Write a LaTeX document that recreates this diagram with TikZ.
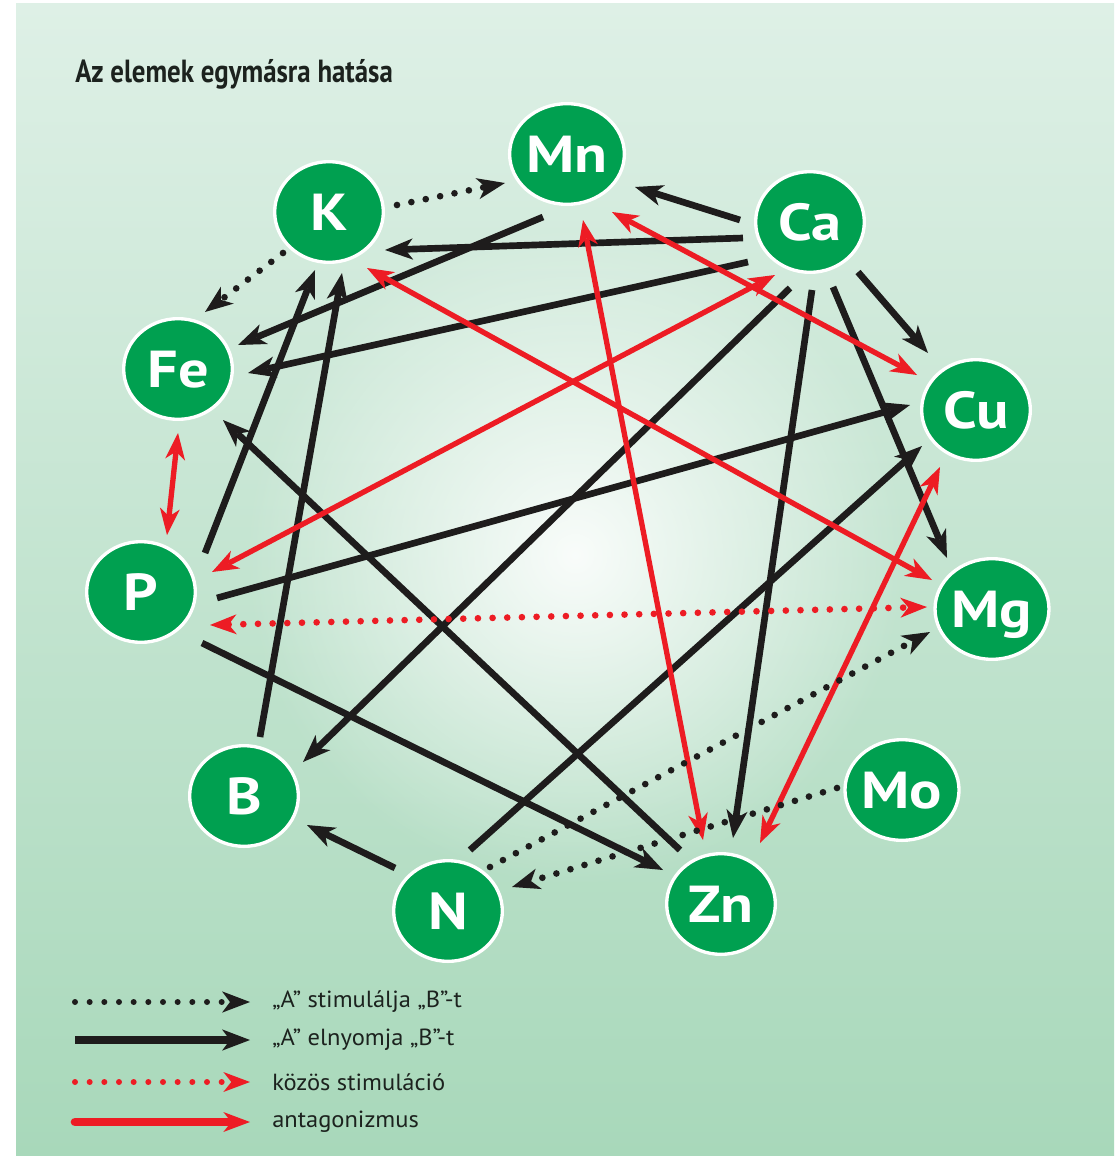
\documentclass[tikz,border=0pt]{standalone}
\usepackage{fontspec}
\setmainfont{PT Sans}
\newfontfamily\nodefont[FakeStretch=1.16]{PT Sans}
\newfontfamily\titlefont[FakeStretch=0.84]{PT Sans}
\newfontfamily\legfont[FakeStretch=1.05]{PT Sans}
\usetikzlibrary{arrows.meta,shapes.geometric,fadings}
\definecolor{elgreen}{RGB}{0,160,80}
\definecolor{arrred}{RGB}{237,28,36}
\definecolor{lineblack}{RGB}{30,28,28}
\definecolor{bgtop}{RGB}{222,240,230}
\definecolor{bgbot}{RGB}{168,216,186}
\definecolor{txtdark}{RGB}{28,34,30}
\tikzfading[name=glowfade, inner color=transparent!0, outer color=transparent!100]
\tikzset{
  elem/.style={ellipse, fill=elgreen, draw=white, line width=2.5pt,
    minimum width=81.5pt, minimum height=75.5pt, inner sep=0pt, text=white,
    font=\nodefont\bfseries\fontsize{39}{39}\selectfont, text height=27.5pt, text depth=0pt},
  bt/.tip={Stealth[length=21pt,width=16pt,inset=6pt,line width=0pt]},
  rt/.tip={Stealth[length=20pt,width=15pt,inset=6pt,line width=0pt]},
  supp/.style={color=lineblack, line width=5pt, -bt},
  stim/.style={color=lineblack, line width=5pt, line cap=round, dash pattern=on 0pt off 11pt, -bt},
  antag/.style={color=arrred, line width=4pt, rt-rt},
  common/.style={color=arrred, line width=5pt, line cap=round, dash pattern=on 0pt off 11pt, rt-rt},
  legtext/.style={anchor=west, inner sep=0pt, text=txtdark, font=\legfont\fontsize{17.5}{17.5}\selectfont}
}
\begin{document}
\begin{tikzpicture}[x=0.75pt,y=-0.75pt]
\useasboundingbox (0,0) rectangle (1114,1156);
\fill[white] (0,0) rectangle (1114,1156);
\shade[top color=bgtop, bottom color=bgbot] (16,4) rectangle (1114,1156);
\fill[white, path fading=glowfade, fill opacity=0.9] (575,555) ellipse (330 and 330);

\node[anchor=base west, inner sep=0pt, text=txtdark,
  font=\titlefont\bfseries\fontsize{24}{24}\selectfont] (title) at (75,83) {Az elemek egymásra hatása};

% elements
\node[elem] (Mn) at (567,154) {Mn};
\node[elem] (K)  at (329,212) {K};
\node[elem] (Ca) at (810,222) {Ca};
\node[elem] (Fe) at (178,369) {Fe};
\node[elem] (Cu) at (976,410) {Cu};
\node[elem] (P)  at (141,592) {P};
\node[elem] (Mg) at (992,609) {Mg};
\node[elem] (Mo) at (902,790) {Mo};
\node[elem] (B)  at (244,796) {B};
\node[elem] (N)  at (448,911) {N};
\node[elem] (Zn) at (721,904) {Zn};

% suppression (black solid)
\draw[supp] ([shift={(-70,-2)}]Ca.center) -- ([shift={(68,33)}]Mn.center);
\draw[supp] ([shift={(-67,16)}]Ca.center) -- ([shift={(56,38)}]K.center);
\draw[supp] ([shift={(-62,40)}]Ca.center) -- ([shift={(70,4)}]Fe.center);
\draw[supp] ([shift={(-24,63)}]Mn.center) -- ([shift={(60,-24)}]Fe.center);
\draw[supp] ([shift={(48,50)}]Ca.center) -- ([shift={(-48,-57)}]Cu.center);
\draw[supp] ([shift={(23,65)}]Ca.center) -- ([shift={(-45,-51)}]Mg.center);
\draw[supp] ([shift={(2,68)}]Ca.center) -- ([shift={(12,-66)}]Zn.center);
\draw[supp] ([shift={(-20,66)}]Ca.center) -- ([shift={(59,-34)}]B.center);
\draw[supp] ([shift={(76,6)}]P.center) -- ([shift={(-66,-5)}]Cu.center);
\draw[supp] ([shift={(22,-61)}]N.center) -- ([shift={(-54,36)}]Cu.center);
\draw[supp] ([shift={(64,-39)}]P.center) -- ([shift={(-14,58)}]K.center);
\draw[supp] ([shift={(16,-59)}]B.center) -- ([shift={(13,61)}]K.center);
\draw[supp] ([shift={(-41,-54)}]Zn.center) -- ([shift={(45,51)}]Fe.center);
\draw[supp] ([shift={(61,51)}]P.center) -- ([shift={(-58,-34)}]Zn.center);
\draw[supp] ([shift={(-53,-43)}]N.center) -- ([shift={(63,29)}]B.center);

% antagonism (red solid)
\draw[antag] ([shift={(0,64)}]Fe.center) -- ([shift={(26,-57)}]P.center);
\draw[antag] ([shift={(-35,53)}]Ca.center) -- ([shift={(71,-20)}]P.center);
\draw[antag] ([shift={(45,58)}]Mn.center) -- ([shift={(-59,-35)}]Cu.center);
\draw[antag] ([shift={(38,56)}]K.center) -- ([shift={(-60,-29)}]Mg.center);
\draw[antag] ([shift={(16,66)}]Mn.center) -- ([shift={(-18,-64)}]Zn.center);
\draw[antag] ([shift={(-36,57)}]Cu.center) -- ([shift={(39,-61)}]Zn.center);

% common stimulation (red dotted)
\draw[common] ([shift={(69,33)}]P.center) -- ([shift={(-65,-2)}]Mg.center);

% stimulation (black dotted)
\draw[stim] ([shift={(68,-7)}]K.center) -- ([shift={(-62,29)}]Mn.center);
\draw[stim] ([shift={(-46,41)}]K.center) -- ([shift={(27,-57)}]Fe.center);
\draw[stim] ([shift={(42,-44)}]N.center) -- ([shift={(-62,23)}]Mg.center);
\draw[stim] ([shift={(-65,-2)}]Mo.center) -- ([shift={(64,-24)}]N.center);

% legend
\coordinate (l1a) at (75,1002);  \coordinate (l1b) at (250,1002);
\coordinate (l2a) at (75,1040);  \coordinate (l2b) at (250,1040);
\coordinate (l3a) at (75,1082);  \coordinate (l3b) at (250,1082);
\coordinate (l4a) at (75,1122);  \coordinate (l4b) at (250,1122);
\draw[stim, line width=4.5pt] (l1a) -- (l1b);
\draw[supp, line width=6pt] (l2a) -- (l2b);
\draw[common, line width=4.5pt, -rt] (l3a) -- (l3b);
\draw[color=arrred, line width=6.5pt, line cap=round, -rt] (l4a) -- (l4b);
\node[legtext] (t1) at (272,1002) {„A” stimulálja „B”-t};
\node[legtext] (t2) at (272,1040) {„A” elnyomja „B”-t};
\node[legtext] (t3) at (272,1082) {közös stimuláció};
\node[legtext] (t4) at (272,1122) {antagonizmus};
\end{tikzpicture}
\end{document}
